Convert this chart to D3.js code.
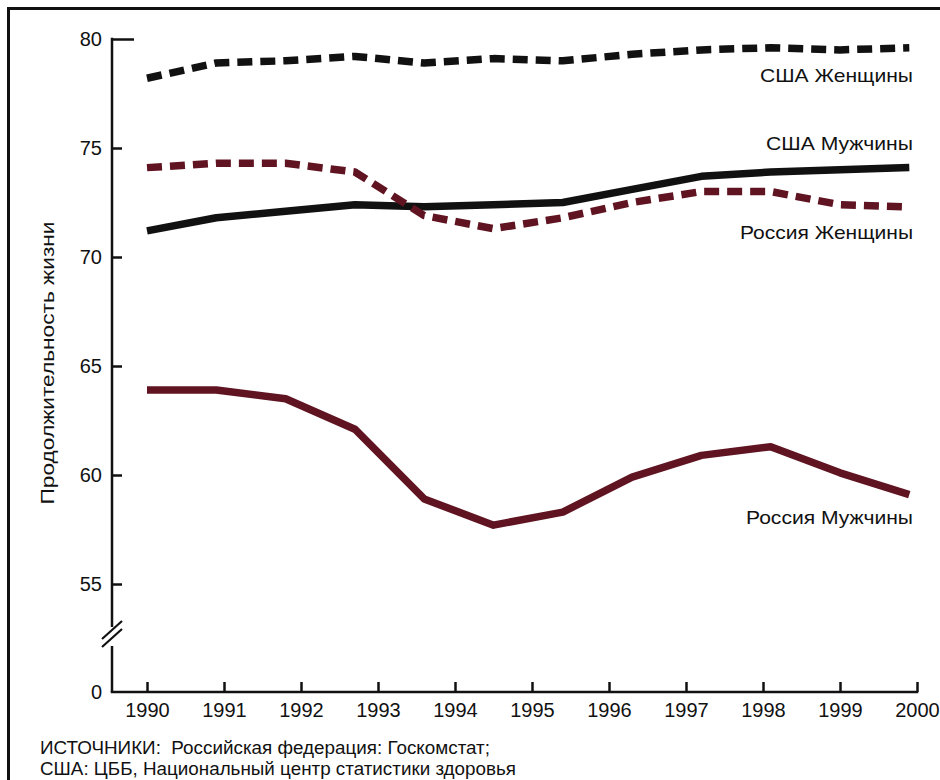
<!DOCTYPE html>
<html>
<head>
<meta charset="utf-8">
<script src="https://cdn.jsdelivr.net/npm/d3@7"></script>
<style>
  body { margin: 0; background: #fff; }
  svg text { font-family: "Liberation Sans", Arial, sans-serif; fill: #111; }
</style>
</head>
<body>
<svg width="940" height="780"></svg>
<script>
// data points sit a bit off the year ticks in the original, so keep them as read
var years = [1990, 1990.9, 1991.8, 1992.7, 1993.6, 1994.5, 1995.4, 1996.3, 1997.2, 1998.1, 1999.0, 1999.9];
var usaWomen = [78.2, 78.9, 79.0, 79.2, 78.9, 79.1, 79.0, 79.3, 79.5, 79.6, 79.5, 79.6];
var usaMen = [71.2, 71.8, 72.1, 72.4, 72.3, 72.4, 72.5, 73.1, 73.7, 73.9, 74.0, 74.1];
var rusWomen = [74.1, 74.3, 74.3, 73.9, 71.9, 71.3, 71.8, 72.5, 73.0, 73.0, 72.4, 72.3];
var rusMen = [63.9, 63.9, 63.5, 62.1, 58.9, 57.7, 58.3, 59.9, 60.9, 61.3, 60.1, 59.1];

var yearTicks = [1990, 1991, 1992, 1993, 1994, 1995, 1996, 1997, 1998, 1999, 2000];
var valueTicks = [0, 55, 60, 65, 70, 75, 80];

var maroon = "#601421",
    black = "#111";

// the original font runs wider than Liberation Sans, so labels get a textLength
var series = [
    {name: "США Женщины", values: usaWomen, color: black, dash: "15 8", dy: 34, len: 153},
    {name: "США Мужчины", values: usaMen, color: black, dash: null, dy: -18, len: 147},
    {name: "Россия Женщины", values: rusWomen, color: maroon, dash: "15 8", dy: 32, len: 173},
    {name: "Россия Мужчины", values: rusMen, color: maroon, dash: null, dy: 29, len: 167}
];

var svg = d3.select("svg");

var x = d3.scaleLinear().domain([1990, 2000]).range([147, 917]);
// broken axis: 0 sits at the bottom, the rest starts at 55
var y = d3.scaleLinear().domain([0, 55, 80]).range([692, 584, 39]);

// frame, cut off at right and bottom like the scan
svg.append("rect")
    .attr("x", 8.5).attr("y", 8.5)
    .attr("width", 1000).attr("height", 1000)
    .attr("fill", "none").attr("stroke", "#111").attr("stroke-width", 3);

var axisX = 112;

// y axis
var yAxis = svg.append("g")
    .attr("transform", "translate(" + axisX + ",0)")
    .call(d3.axisLeft(y).tickValues(valueTicks).tickSizeInner(-10).tickSizeOuter(0).tickPadding(10));
yAxis.select(".domain").remove();
yAxis.selectAll(".tick line").attr("stroke", "#111").attr("stroke-width", 2.5);
yAxis.selectAll(".tick").filter(function(d) { return d == 80; }).select("line").attr("x2", 22);
yAxis.selectAll(".tick").filter(function(d) { return d == 0; }).select("line").remove();
yAxis.selectAll(".tick text").attr("font-size", 20).attr("fill", "#111")
    .style("font-family", "Liberation Sans, Arial, sans-serif");

var breakTop = 622, breakBottom = 646;
svg.append("line")
    .attr("x1", axisX).attr("x2", axisX)
    .attr("y1", y(80) - 1.25).attr("y2", breakTop)
    .attr("stroke", "#111").attr("stroke-width", 2.5);
svg.append("line")
    .attr("x1", axisX).attr("x2", axisX)
    .attr("y1", breakBottom).attr("y2", y(0))
    .attr("stroke", "#111").attr("stroke-width", 2.5);
// break slashes
[-4, 4].forEach(function(o) {
    var cy = (breakTop + breakBottom) / 2 + o;
    svg.append("line")
        .attr("x1", axisX - 10).attr("y1", cy + 9)
        .attr("x2", axisX + 10).attr("y2", cy - 9)
        .attr("stroke", "#111").attr("stroke-width", 2.2);
});
svg.append("line")
    .attr("x1", axisX).attr("x2", axisX)
    .attr("y1", breakTop).attr("y2", breakTop + 5)
    .attr("stroke", "#111").attr("stroke-width", 2.5);

// x axis
var xAxis = svg.append("g")
    .attr("transform", "translate(0," + y(0) + ")")
    .call(d3.axisBottom(x).tickValues(yearTicks).tickFormat(d3.format("d"))
        .tickSizeInner(-10).tickSizeOuter(0).tickPadding(11));
xAxis.select(".domain").remove();
xAxis.selectAll(".tick line").attr("stroke", "#111").attr("stroke-width", 2.5);
xAxis.selectAll(".tick text").attr("font-size", 20).attr("fill", "#111")
    .style("font-family", "Liberation Sans, Arial, sans-serif");
svg.append("line")
    .attr("x1", axisX - 1.25).attr("x2", x(2000) + 1.25)
    .attr("y1", y(0)).attr("y2", y(0))
    .attr("stroke", "#111").attr("stroke-width", 2.5);

// y title
svg.append("text")
    .attr("transform", "translate(54,363) rotate(-90)")
    .attr("text-anchor", "middle")
    .attr("font-size", 19)
    .attr("textLength", 283)
    .attr("lengthAdjust", "spacingAndGlyphs")
    .text("Продолжительность жизни");

// lines
var line = d3.line()
    .x(function(d, i) { return x(years[i]); })
    .y(function(d) { return y(d); });

series.forEach(function(s) {
    svg.append("path")
        .datum(s.values)
        .attr("d", line)
        .attr("fill", "none")
        .attr("stroke", s.color)
        .attr("stroke-width", 7.5)
        .attr("stroke-dasharray", s.dash)
        .attr("stroke-linejoin", "round");

    var last = s.values[s.values.length - 1];
    svg.append("text")
        .attr("x", 913 - s.len)
        .attr("y", y(last) + s.dy)
        .attr("font-size", 19)
        .attr("textLength", s.len)
        .attr("lengthAdjust", "spacingAndGlyphs")
        .text(s.name);
});

// source note
svg.append("text").attr("x", 40).attr("y", 754).attr("font-size", 17.5)
    .attr("textLength", 450).attr("lengthAdjust", "spacingAndGlyphs")
    .style("white-space", "pre")
    .text("ИСТОЧНИКИ:  Российская федерация: Госкомстат;");
svg.append("text").attr("x", 40).attr("y", 775).attr("font-size", 17.5)
    .attr("textLength", 476).attr("lengthAdjust", "spacingAndGlyphs")
    .text("США: ЦББ, Национальный центр статистики здоровья");
</script>
</body>
</html>
